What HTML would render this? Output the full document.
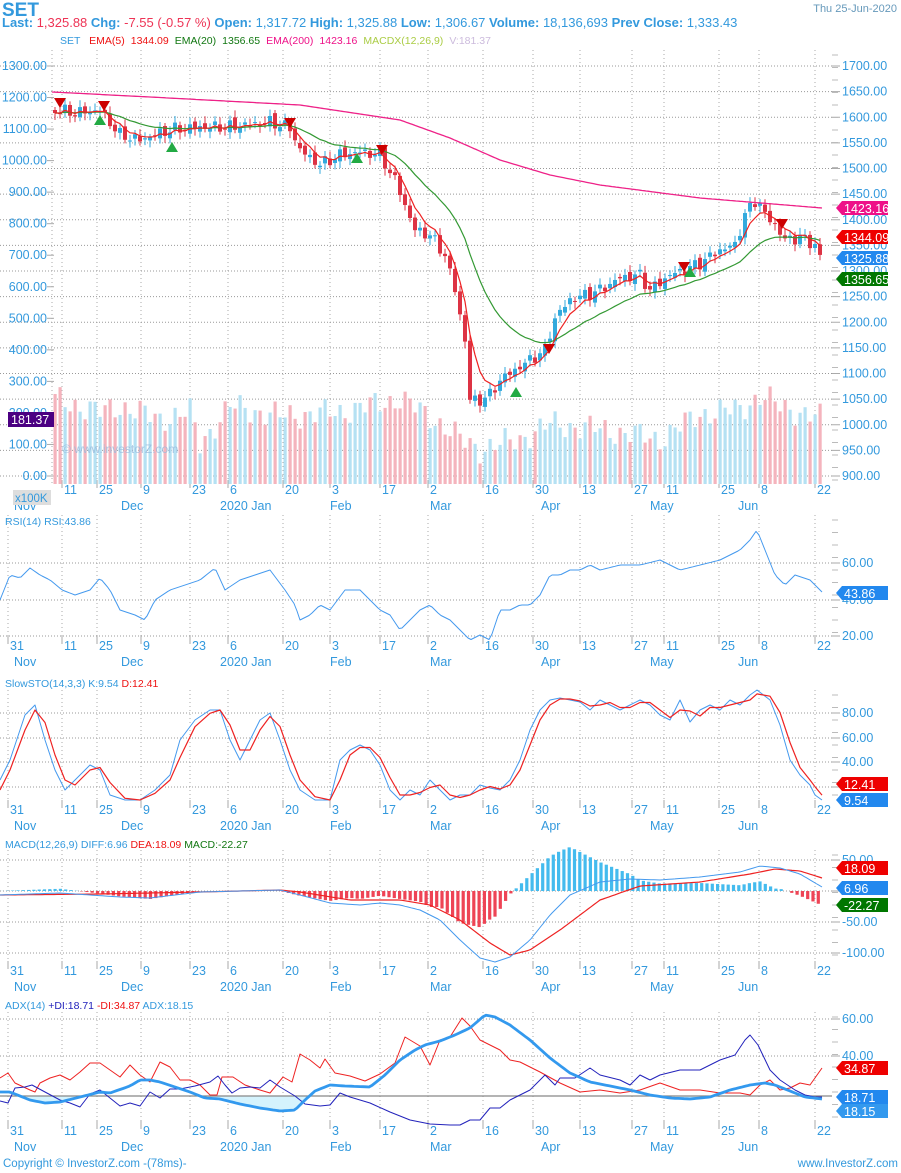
<!DOCTYPE html>
<html><head><meta charset="utf-8"><style>
body{margin:0;background:#fff;width:901px;height:1173px;overflow:hidden;font-family:"Liberation Sans","DejaVu Sans",sans-serif}
svg{position:absolute;left:0;top:0}
</style></head><body>
<svg id="s" width="901" height="1173" xmlns="http://www.w3.org/2000/svg" font-family="Liberation Sans, DejaVu Sans, sans-serif">
<text x="2" y="16" font-size="19" font-weight="bold" fill="#3399dd">SET</text>
<text x="2" y="27" font-size="13" font-weight="bold" fill="#3399dd">Last: <tspan fill="#ee3355" font-weight="normal">1,325.88</tspan> Chg: <tspan fill="#ee3355" font-weight="normal">-7.55 (-0.57 %)</tspan>  Open: <tspan font-weight="normal">1,317.72</tspan> High: <tspan font-weight="normal">1,325.88</tspan> Low: <tspan font-weight="normal">1,306.67</tspan> Volume: <tspan font-weight="normal">18,136,693</tspan>  Prev Close: <tspan font-weight="normal">1,333.43</tspan></text>
<text x="897" y="12" font-size="11" fill="#6699bb" text-anchor="end">Thu 25-Jun-2020</text>
<text x="60" y="44" font-size="10.5" fill="#3399dd">SET <tspan fill="#ee1111" dx="6">EMA(5)</tspan><tspan fill="#ee1111" dx="6">1344.09</tspan><tspan fill="#117711" dx="6">EMA(20)</tspan><tspan fill="#117711" dx="6">1356.65</tspan><tspan fill="#ee1188" dx="6">EMA(200)</tspan><tspan fill="#ee1188" dx="6">1423.16</tspan><tspan fill="#aacc44" dx="6">MACDX(12,26,9)</tspan><tspan fill="#ccbbdd" dx="6">V:181.37</tspan></text>
<g id="g"></g>
<text x="62" y="453" font-size="12" fill="#99bbdd" opacity="0.8">© www.investorZ.com</text>
<rect x="13" y="490" width="38" height="15" fill="#dddddd"/>
<text x="15" y="502" font-size="11.5" fill="#3399dd">x100K</text>
<text x="5" y="525" font-size="10.5" fill="#3399dd">RSI(14)   RSI:43.86</text>
<text x="5" y="687" font-size="10.5" fill="#3399dd">SlowSTO(14,3,3)   K:9.54   <tspan fill="#ee1111">D:12.41</tspan></text>
<text x="5" y="848" font-size="10.5" fill="#3399dd">MACD(12,26,9)   DIFF:6.96   <tspan fill="#ee1111">DEA:18.09</tspan>   <tspan fill="#117711">MACD:-22.27</tspan></text>
<text x="5" y="1009" font-size="10.5" fill="#3399dd">ADX(14)   <tspan fill="#2222bb">+DI:18.71</tspan>   <tspan fill="#ee1111">-DI:34.87</tspan>   ADX:18.15</text>
<text x="3" y="1167" font-size="11.5" fill="#3399dd">Copyright © InvestorZ.com  -(78ms)-</text>
<text x="898" y="1167" font-size="11.5" fill="#3399dd" text-anchor="end">www.InvestorZ.com</text>
</svg>
<script>
const g=document.getElementById('g');let h='';
const B='#3399dd';
function I(k,x){for(let i=0;i<k.length-1;i++){if(x<=k[i+1][0]){const [a,b]=k[i],[c,d]=k[i+1];return b+(d-b)*(x-a)/(c-a||1);}}return k[k.length-1][1];}
function path(k,col,w,step){let p='';for(let x=k[0][0];x<=k[k.length-1][0];x+=step||2){p+=(p?'L':'M')+x+','+I(k,x).toFixed(1);}return `<path d="${p}" fill="none" stroke="${col}" stroke-width="${w}" stroke-linejoin="round"/>`;}
function pl(k,col,w){return `<polyline points="${k.map(a=>a.join(',')).join(' ')}" fill="none" stroke="${col}" stroke-width="${w}" stroke-linejoin="round"/>`;}
const VX=[8,62,97,141,190,228,283,330,380,428,483,533,580,632,664,719,759,815];
const DL=['31','11','25','9','23','6','20','3','17','2','16','30','13','27','11','25','8','22'];
const ML=[['Nov',24],['Dec',131],['2020 Jan',240],['Feb',340],['Mar',440],['Apr',551],['May',660],['Jun',748]];
function panel(y0,y1,hs,dy,first){
 VX.forEach((x,i)=>{if(!first||i>0)h+=`<line x1="${x}" y1="${y0}" x2="${x}" y2="${y1}" stroke="#aaaaaa" stroke-dasharray="1,3"/>`;});
 hs.forEach(([y,l])=>{h+=`<line x1="0" y1="${y}" x2="832" y2="${y}" stroke="#999" stroke-dasharray="1,2"/><line x1="832" y1="${y}" x2="840" y2="${y}" stroke="#aaa"/>`;if(l)h+=`<text x="842" y="${y+4}" font-size="12.5" fill="${B}">${l}</text>`;});
 for(let y=y0+5;y<y1;y+=12.5)h+=`<line x1="832" y1="${y}" x2="838" y2="${y}" stroke="#bbb"/>`;
 VX.forEach((x,i)=>{if(first&&i==0)return;h+=`<line x1="${x}" y1="${dy-12}" x2="${x}" y2="${dy-4}" stroke="#aaa"/><text x="${x+2}" y="${dy+2}" font-size="12.5" fill="${B}">${DL[i]}</text>`;});
 ML.forEach(([t,x])=>{h+=`<text x="${x-(t.length>3?20:10)}" y="${dy+18}" font-size="12.5" fill="${B}">${t}</text>`;});
}
function tag(y,t,c,x){x=x||836;h+=`<path d="M${x},${y} L${x+6},${y-7} H${x+52} V${y+7} H${x+6} Z" fill="${c}"/><text x="${x+8}" y="${y+5}" font-size="12.5" fill="#fff">${t}</text>`;}
let mh=[];for(let p=1700;p>=900;p-=50)mh.push([66+(1700-p)*0.5125,p.toFixed(2)]);
panel(50,485,mh,492,true);
h+=`<line x1="52" y1="50" x2="52" y2="485" stroke="#aaa" stroke-dasharray="1,3"/>`;
for(let v=1300;v>=0;v-=100){const y=476-v*0.3154;h+=`<text x="47" y="${y+4}" font-size="12.5" fill="${B}" text-anchor="end">${v.toFixed(2)}</text><line x1="47" y1="${y}" x2="54" y2="${y}" stroke="#aaa"/>`;}
const VK=[[55,85],[100,72],[120,78],[160,65],[190,72],[200,40],[230,78],[280,68],[340,72],[400,85],[430,68],[460,45],[480,35],[520,45],[550,60],[600,55],[660,45],[700,70],[740,75],[760,88],[780,78],[822,65]];
const PK=[[55,110],[75,113],[100,110],[120,135],[140,140],[170,130],[200,127],[230,127],[270,122],[290,128],[300,150],[320,165],[340,155],[360,152],[380,155],[395,180],[405,205],[415,230],[430,235],[445,255],[455,290],[465,340],[470,400],[480,400],[490,395],[500,380],[515,370],[530,360],[545,350],[555,318],[570,300],[585,295],[600,290],[620,278],[640,275],[650,290],[670,275],[685,270],[700,263],[720,250],[735,245],[745,215],[757,198],[765,215],[775,225],[785,240],[800,237],[815,245],[822,262]];
let cl=[],xs=[],prev=110;
for(let i=0,x=55;x<=822;x+=5,i++){const c=I(PK,x)+Math.sin(i*2.3)*4+Math.cos(i*1.7)*3;const o=prev+Math.sin(i*3.1)*3;xs.push(x);cl.push(c);
 const up=c<o;const col=up?'#33aadd':'#dd3344';const vh=I(VK,x)+Math.sin(i*1.9)*10+Math.cos(i*.7)*5;
 h+=`<rect x="${x-1.5}" y="${484-vh}" width="3.2" height="${vh}" fill="${up?'#b5e1f3':'#f4b4bd'}"/>`;
 const t=Math.min(c,o),b=Math.max(c,o);h+=`<line x1="${x}" y1="${t-3-Math.abs(Math.sin(i))*4}" x2="${x}" y2="${b+3+Math.abs(Math.cos(i))*4}" stroke="${col}"/><rect x="${x-2}" y="${t}" width="4" height="${Math.max(b-t,1)}" fill="${col}"/>`;prev=c;}
function ema(a,n){const k=2/(n+1);let e=a[0],r=[];a.forEach(v=>{e=v*k+e*(1-k);r.push(e)});return r;}
const e5=ema(cl,5),e20=ema(cl,20);
h+=pl(xs.map((x,i)=>[x,e20[i].toFixed(1)]),'#339933',1.2);
h+=pl(xs.map((x,i)=>[x,e5[i].toFixed(1)]),'#ee2222',1.2);
h+=path([[52,92],[150,97],[300,105],[400,120],[450,138],[500,160],[550,175],[600,185],[700,198],[822,208]],'#ee2288',1.3);
[[60,104],[104,107],[290,124],[382,151],[549,350],[684,268],[782,225]].forEach(([x,y])=>h+=`<path d="M${x-6},${y-6} H${x+6} L${x},${y+4}Z" fill="#cc0000"/>`);
[[100,120],[172,147],[357,158],[516,392],[690,272]].forEach(([x,y])=>h+=`<path d="M${x-6},${y+5} H${x+6} L${x},${y-5}Z" fill="#22aa44"/>`);
tag(208,'1423.16','#ee1188');tag(237,'1344.09','#ee0000');tag(258,'1325.88','#2288ee');tag(279,'1356.65','#007700');
h+=`<rect x="8" y="412" width="46" height="15" fill="#4b0082"/><text x="11" y="424" font-size="12.5" fill="#fff">181.37</text>`;
panel(515,640,[[563,'60.00'],[600,'40.00'],[636,'20.00']],648);
h+=path([[0,600],[10,575],[20,578],[30,568],[40,575],[50,580],[62,590],[75,595],[90,590],[100,578],[110,590],[120,610],[135,615],[145,620],[155,600],[170,590],[185,585],[200,580],[215,568],[225,590],[240,580],[255,575],[270,570],[285,590],[295,605],[300,620],[310,615],[320,605],[330,610],[345,590],[360,590],[370,600],[380,610],[390,615],[400,630],[410,620],[420,610],[430,605],[440,615],[450,620],[460,630],[470,640],[480,635],[490,640],[500,610],[510,610],[520,605],[530,605],[540,595],[550,575],[560,575],[570,570],[580,570],[590,565],[600,570],[620,565],[640,565],[660,560],[680,570],[700,565],[720,560],[740,550],[750,540],[757,530],[765,550],[775,575],[785,585],[795,575],[810,580],[822,592]],'#4499ee',1,3);
tag(593,'43.86','#2288ee');
panel(690,800,[[713,'80.00'],[738,'60.00'],[762,'40.00'],[787,'']],812);
const SK=[[0,780],[10,760],[25,715],[35,705],[45,740],[55,770],[65,790],[75,780],[90,765],[100,770],[110,795],[125,800],[140,800],[155,790],[170,775],[180,740],[195,720],[210,710],[220,710],[230,740],[240,760],[250,740],[260,720],[270,713],[280,740],[290,770],[300,790],[315,800],[330,800],[340,760],[350,750],[360,745],[370,750],[380,765],[390,790],[400,800],[410,790],[420,795],[430,780],[440,790],[450,800],[460,795],[470,795],[480,785],[490,788],[500,790],[510,780],[520,760],[530,730],[540,710],[550,700],[560,698],[570,700],[580,702],[590,710],[600,700],[610,705],[620,710],[630,705],[640,700],[650,705],[660,715],[670,720],[680,700],[690,722],[700,710],[710,705],[720,710],[730,700],[740,705],[750,695],[757,690],[770,700],[780,725],[790,760],[800,775],[810,785],[815,795],[822,800]];
h+=pl(SK.map(([x,y])=>[x,y]),'#4499ee',1);
h+=pl(SK.map(([x,y])=>[x,((I(SK,x-5)+I(SK,x-10)+y)/3).toFixed(1)]),'#ee2222',1.2);
tag(784,'12.41','#ee0000');tag(800,'9.54','#2288ee');
panel(850,960,[[860,'50.00'],[891,''],[922,'-50.00'],[953,'-100.00']],973);
const DF=[[0,895],[60,893],[120,897],[150,898],[200,892],[240,891],[280,890],[300,895],[330,903],[360,905],[380,903],[400,905],[420,910],[440,920],[460,940],[480,958],[495,962],[510,957],[530,940],[550,915],[570,895],[600,882],[630,879],[660,880],[700,877],[740,872],[760,866],[780,868],[800,874],[822,887]];
const DE=[[0,895],[100,894],[200,892],[280,890],[300,892],[350,900],[400,900],[430,905],[460,920],[490,943],[510,955],[530,950],[560,930],[600,900],[640,886],[700,882],[750,874],[775,869],[800,871],[822,878]];
for(let x=2;x<=822;x+=5.3){const d=(I(DF,x)-I(DE,x))*1.6;const up=d<0;h+=`<rect x="${x-1.5}" y="${up?891+d:891}" width="3.2" height="${Math.abs(d)}" fill="${up?'#44bbee':'#ee4455'}"/>`;}
h+=path(DE,'#ee2222',1.2,3);h+=path(DF,'#4499ee',1,3);
tag(868,'18.09','#ee0000');tag(888,'6.96','#2288ee');tag(905,'-22.27','#007700');
panel(1012,1122,[[1019,'60.00'],[1056,'40.00']],1133);
const AX=[[0,1092],[10,1092],[30,1100],[45,1103],[60,1102],[80,1097],[100,1092],[110,1093],[130,1086],[140,1080],[150,1080],[160,1082],[175,1087],[190,1092],[205,1098],[220,1099],[240,1104],[260,1108],[280,1111],[295,1110],[305,1100],[315,1091],[330,1085],[345,1086],[370,1087],[385,1075],[400,1060],[415,1050],[425,1045],[440,1041],[455,1035],[470,1028],[485,1015],[495,1017],[510,1025],[530,1040],[550,1058],[570,1073],[590,1082],[610,1086],[630,1090],[650,1095],[670,1098],[690,1099],[710,1097],[730,1090],[750,1085],[765,1083],[775,1085],[790,1091],[805,1097],[822,1099]];
let fp='M0,1096';for(let x=0;x<=822;x+=2)fp+=`L${x},${Math.max(I(AX,x),1096).toFixed(1)}`;fp+='L822,1096Z';
h+=`<path d="${fp}" fill="#d5f3fd"/><line x1="0" y1="1096" x2="832" y2="1096" stroke="#888" stroke-width="1.2"/>`;
h+=pl([[0,1078],[8,1073],[15,1083],[30,1090],[35,1092],[40,1083],[50,1078],[60,1075],[70,1080],[80,1072],[90,1063],[100,1063],[110,1070],[120,1077],[130,1065],[140,1075],[150,1082],[160,1062],[170,1067],[180,1080],[190,1080],[200,1085],[210,1095],[217,1095],[222,1077],[233,1077],[245,1085],[260,1090],[270,1093],[283,1077],[292,1082],[300,1054],[310,1060],[320,1068],[325,1059],[335,1073],[350,1076],[365,1081],[380,1074],[395,1063],[405,1037],[420,1046],[430,1065],[440,1040],[450,1037],[462,1018],[470,1026],[480,1040],[490,1045],[500,1050],[510,1060],[520,1062],[540,1072],[560,1083],[580,1092],[600,1090],[620,1093],[640,1090],[660,1083],[680,1090],[700,1090],[720,1093],[740,1093],[750,1095],[760,1085],[770,1080],[780,1090],[790,1088],[800,1083],[810,1085],[822,1068]],'#ee2222',1);
h+=pl([[0,1101],[8,1103],[15,1088],[25,1087],[32,1085],[45,1092],[60,1100],[70,1103],[80,1107],[90,1094],[100,1090],[110,1098],[120,1106],[130,1103],[140,1106],[150,1092],[160,1098],[170,1089],[180,1089],[195,1086],[210,1082],[218,1076],[225,1085],[232,1093],[240,1088],[250,1087],[260,1088],[270,1080],[280,1087],[295,1096],[305,1104],[320,1106],[330,1105],[340,1093],[350,1097],[370,1103],[390,1112],[410,1120],[430,1124],[450,1125],[460,1125],[470,1120],[480,1120],[490,1108],[500,1108],[510,1100],[520,1095],[530,1090],[545,1075],[555,1085],[560,1078],[575,1078],[590,1068],[600,1075],[620,1080],[630,1085],[640,1075],[650,1080],[660,1075],[680,1070],[700,1070],[720,1060],[735,1055],[745,1040],[750,1035],[758,1045],[770,1070],[780,1080],[795,1090],[805,1095],[815,1097],[822,1097]],'#2222bb',1);
h+=path(AX,'#3399ee',2.8,3);
tag(1068,'34.87','#ee0000');tag(1097,'18.71','#2288ee');tag(1111,'18.15','#3399ee');
g.innerHTML=h;
</script>
</body></html>
